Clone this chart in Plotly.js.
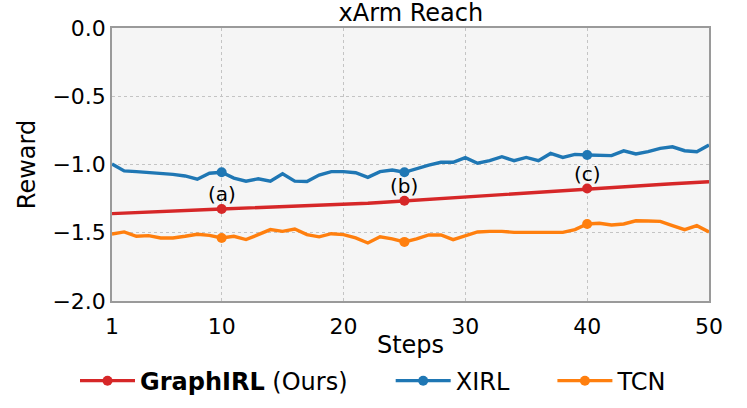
<!DOCTYPE html>
<html>
<head>
<meta charset="utf-8">
<script src="https://cdn.plot.ly/plotly-3.0.1.min.js"></script>
<style>
  html, body { margin: 0; padding: 0; background: #fff; }
  #reach-plot { width: 747px; height: 408px; }
</style>
</head>
<body>
<div id="reach-plot"></div>
<script>
// steps 1..50
var steps = [1,2,3,4,5,6,7,8,9,10,11,12,13,14,15,16,17,18,19,20,
             21,22,23,24,25,26,27,28,29,30,31,32,33,34,35,36,37,38,39,40,
             41,42,43,44,45,46,47,48,49,50];

var graphirl = [-1.360,-1.357,-1.353,-1.350,-1.347,-1.343,-1.340,-1.336,-1.330,-1.326,
                -1.323,-1.320,-1.317,-1.314,-1.311,-1.308,-1.305,-1.302,-1.299,-1.295,
                -1.290,-1.284,-1.278,-1.272,-1.266,-1.260,-1.254,-1.248,-1.242,-1.236,
                -1.230,-1.224,-1.218,-1.212,-1.206,-1.200,-1.194,-1.188,-1.182,-1.176,
                -1.171,-1.166,-1.161,-1.156,-1.151,-1.146,-1.141,-1.136,-1.131,-1.126];

var xirl = [-0.996,-1.047,-1.052,-1.057,-1.065,-1.072,-1.084,-1.108,-1.064,-1.057,
            -1.100,-1.122,-1.105,-1.122,-1.068,-1.122,-1.124,-1.077,-1.052,-1.052,
            -1.060,-1.094,-1.052,-1.040,-1.057,-1.028,-1.004,-0.984,-0.984,-0.950,
            -0.991,-0.972,-0.943,-0.972,-0.948,-0.972,-0.919,-0.948,-0.926,-0.930,
            -0.930,-0.935,-0.900,-0.923,-0.906,-0.882,-0.870,-0.899,-0.906,-0.858];

var tcn = [-1.509,-1.494,-1.526,-1.521,-1.538,-1.538,-1.526,-1.511,-1.519,-1.538,
           -1.526,-1.550,-1.514,-1.477,-1.490,-1.473,-1.514,-1.530,-1.507,-1.514,
           -1.538,-1.575,-1.530,-1.545,-1.567,-1.545,-1.516,-1.516,-1.550,-1.519,
           -1.494,-1.490,-1.490,-1.497,-1.497,-1.497,-1.494,-1.497,-1.477,-1.436,
           -1.430,-1.443,-1.436,-1.412,-1.414,-1.417,-1.448,-1.477,-1.448,-1.494];

// points that carry a marker (index into steps)
var markIdx = [9, 24, 39];
var markLabels = ['(a)', '(b)', '(c)'];

var xTicks = [1, 10, 20, 30, 40, 50];

var NBSP = '\u00a0';

function make_trace(y, name, color){
    return {
        x: steps,
        y: y,
        type: 'scatter',
        mode: 'lines+markers',
        name: name,
        line: {color: color, width: 3.4},
        marker: {color: color, size: 10},
        selectedpoints: markIdx,                    // only these get a visible marker
        selected: {marker: {opacity: 1}},
        unselected: {marker: {opacity: 0}}
    };
}

var data = [
    make_trace(graphirl, '<b>GraphIRL</b> (Ours)' + NBSP.repeat(5), '#d62728'),
    make_trace(xirl, 'XIRL' + NBSP.repeat(5), '#1f77b4'),
    make_trace(tcn, 'TCN', '#ff7f0e')
];

var annotations = markIdx.map(function(i, k){
    return {
        x: steps[i], y: graphirl[i],
        text: markLabels[k],
        showarrow: false,
        yshift: 15,
        font: {size: 20, color: '#000'}
    };
});

var gridStyle = {
    showgrid: true,
    gridcolor: '#c4c4c4',
    griddash: 'dot',
    gridwidth: 1,
    showline: true,
    mirror: true,
    linecolor: '#9a9a9a',
    linewidth: 1.5,
    zeroline: false,
    automargin: false,
    tickfont: {size: 22, color: '#000'}
};

var layout = {
    width: 747,
    height: 408,
    margin: {l: 112, r: 38, t: 28, b: 107},
    paper_bgcolor: '#fff',
    plot_bgcolor: '#f5f5f5',
    font: {family: 'DejaVu Sans', color: '#000'},
    title: {text: 'xArm Reach', font: {size: 24}, x: 0.55, xanchor: 'center',
            yref: 'container', y: 0.99, yanchor: 'top', pad: {t: 0, b: 0}},
    xaxis: Object.assign({}, gridStyle, {
        range: [1, 50],
        tickvals: xTicks,
        ticktext: xTicks.map(String),
        ticks: 'outside', ticklen: 5, tickcolor: 'rgba(0,0,0,0)',
        title: {text: 'Steps', font: {size: 24}, standoff: 2}
    }),
    yaxis: Object.assign({}, gridStyle, {
        range: [-2, 0],
        dtick: 0.5,
        tickformat: '.1f',
        ticks: '',
        title: {text: 'Reward', font: {size: 24}, standoff: 10}
    }),
    showlegend: true,
    legend: {
        orientation: 'h',
        xref: 'container', yref: 'container',
        x: 0.5, xanchor: 'center',
        y: 0.066, yanchor: 'middle',
        itemwidth: 55,
        font: {size: 24},
        bgcolor: 'rgba(0,0,0,0)'
    },
    annotations: annotations
};

Plotly.newPlot('reach-plot', data, layout, {displayModeBar: false, displaylogo: false});
</script>
</body>
</html>
